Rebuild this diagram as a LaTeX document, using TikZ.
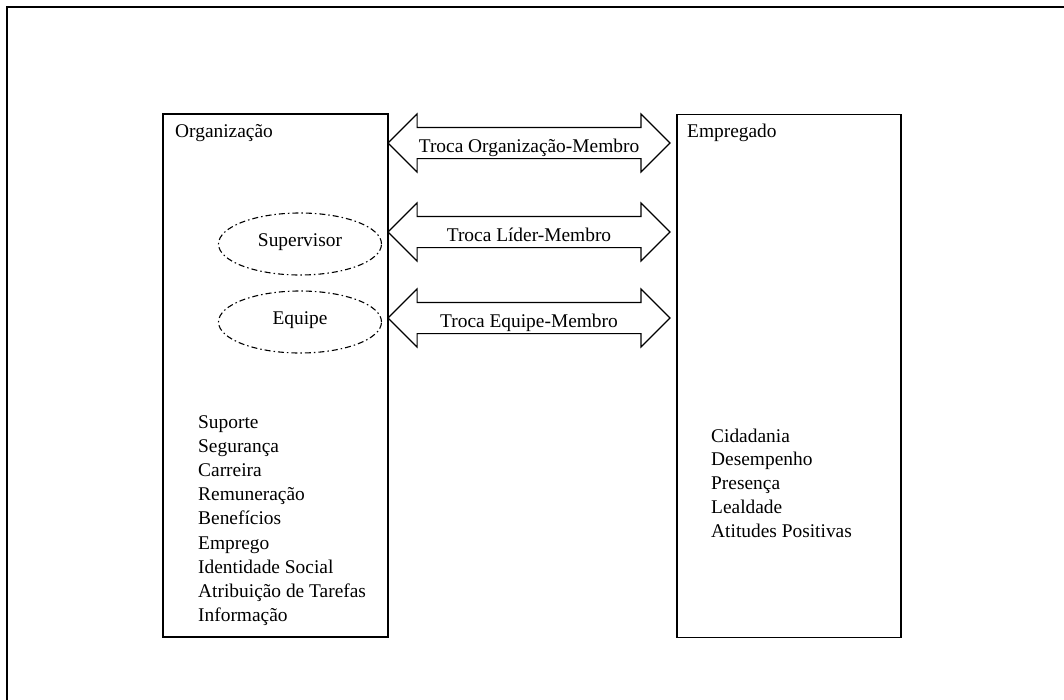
\documentclass[tikz,border=0pt]{standalone}
\usepackage{fontspec}
\setmainfont{Liberation Serif}
\usetikzlibrary{shapes.geometric,shapes.arrows}

\begin{document}
\begin{tikzpicture}[
    x=1pt, y=-1pt,
    every node/.style={font=\fontsize{19.4}{24.2}\selectfont, inner sep=0pt},
    box/.style={draw, line width=1.2pt, minimum width=225pt, minimum height=523pt},
    group/.style={ellipse, draw, line width=1.1pt, dash pattern=on 6pt off 3pt on 1.5pt off 3pt,
        minimum width=163pt, minimum height=62pt, text height=8pt, text depth=4pt},
    exchange/.style={double arrow, draw, line width=1.1pt, double arrow head extend=13.5pt,
        minimum height=282pt, text height=19pt, text depth=0pt, inner xsep=0pt, inner ysep=5.5pt},
    item/.style={anchor=base west}
]
    \useasboundingbox (0,0) rectangle (1064,699);
    \clip (0,0) rectangle (1064,699);

    % 0. Outer frame (runs off at the right and bottom)
    \draw[line width=2.2pt] (7,7) rectangle (1090,720);

    % 1. Define the nodes
    \node[box] (org) at (275.5,375.5) {};
    \node[box, minimum width=224pt] (emp) at (789,376) {};
    \node[item] (orgT) at (175,137) {Organização};
    \node[item] (empT) at (687,137) {Empregado};

    \node[group] (sup) at (300,244) {Supervisor};
    \node[group] (eqp) at (300,322) {Equipe};

    % 2. The exchanges (double arrows)
    \node[exchange] (tOrg) at (529,143) {Troca Organização-Membro};
    \node[exchange] (tLid) at (529,232) {Troca Líder-Membro};
    \node[exchange] (tEqp) at (529,318) {Troca Equipe-Membro};

    % 3. What each side gives
    \foreach \t [count=\i from 0] in {Suporte, Segurança, Carreira, Remuneração, Benefícios,
        Emprego, Identidade Social, Atribuição de Tarefas, Informação}
        \node[item] (org-\i) at (198,{428+24.2*\i}) {\t};

    \foreach \t [count=\i from 0] in {Cidadania, Desempenho, Presença, Lealdade, Atitudes Positivas}
        \node[item] (emp-\i) at (711,{442+23.8*\i}) {\t};

\end{tikzpicture}
\end{document}
